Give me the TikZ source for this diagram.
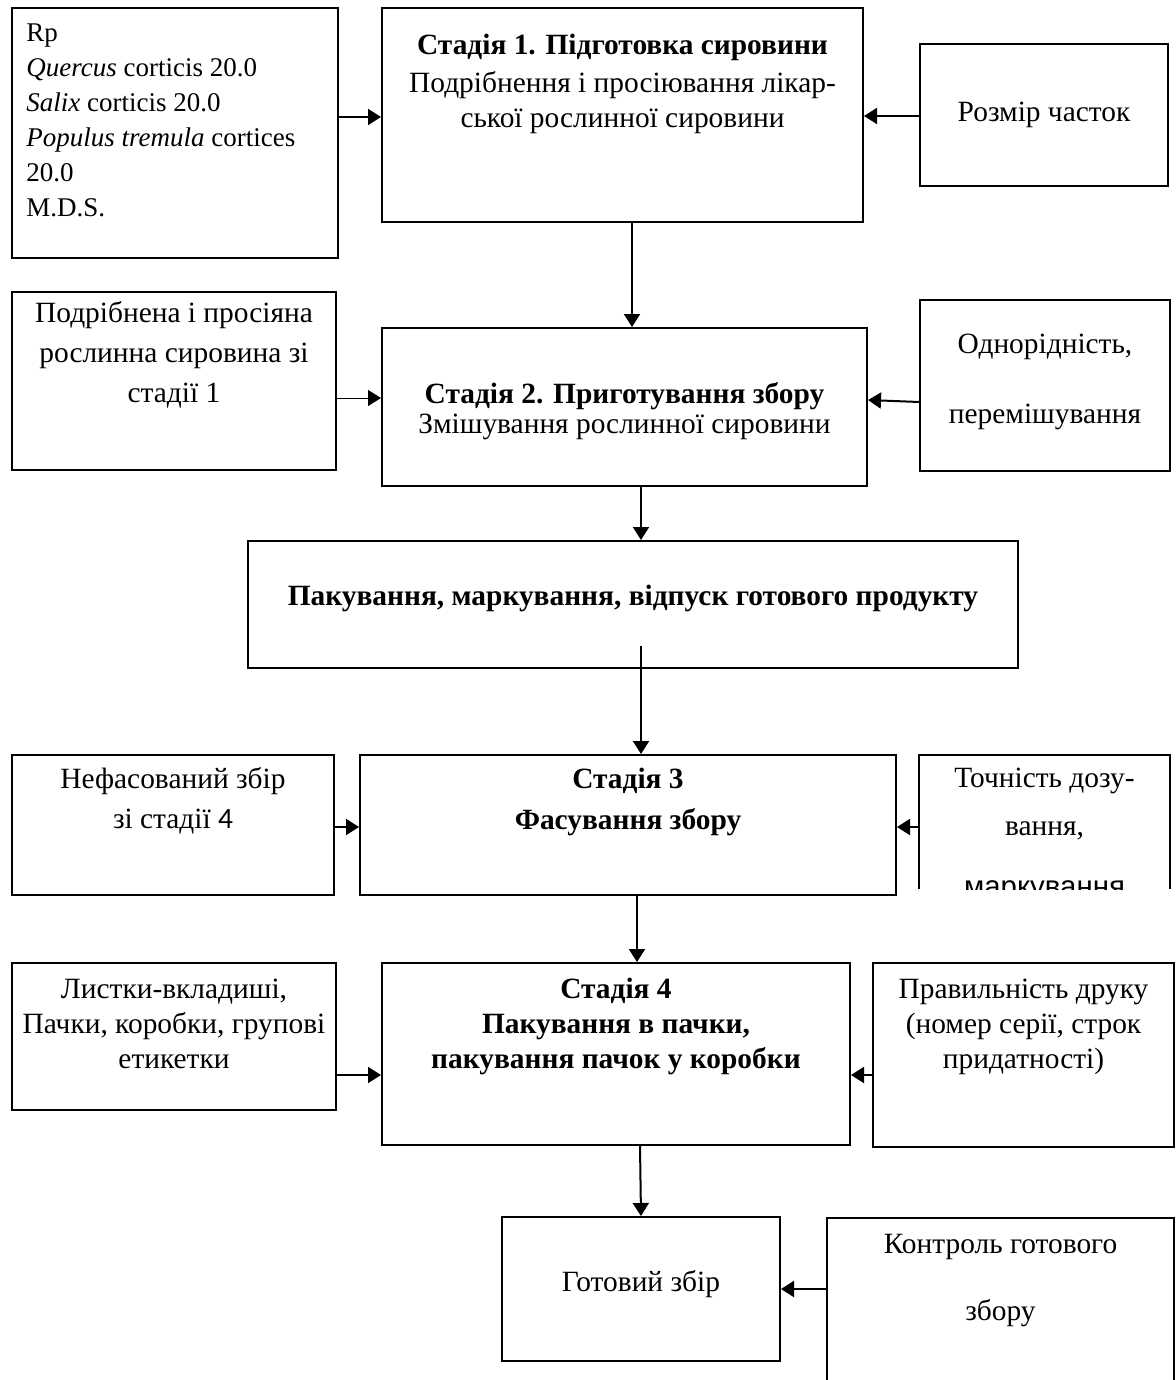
\documentclass[tikz,border=0pt]{standalone}
\usepackage{fontspec}
\setmainfont{Liberation Serif}
\newfontfamily\calfont{Carlito}
\newfontfamily\arialfont{Liberation Sans}
\usetikzlibrary{arrows.meta,positioning}
\tikzset{
  box/.style={draw, line width=1pt, inner sep=0pt},
  openbox/.style={inner sep=0pt},
  txt/.style={inner sep=0pt, align=center, font=\fontsize{14.7}{17.5}\selectfont},
  flow/.style={-{Triangle[length=6.5pt,width=8pt]}, line width=1pt},
  thinflow/.style={flow, line width=0.5pt},
}

\begin{document}
\begin{tikzpicture}[x=0.5pt, y=-0.5pt]
  \useasboundingbox (0,0) rectangle (1176,1380);
  % boxes, centres in px
  \node[box, minimum width=163pt, minimum height=125pt] (rx) at (175,133) {};
  \node[box, minimum width=240.5pt, minimum height=107pt] (s1) at (622.5,115) {};
  \node[box, minimum width=124pt, minimum height=71pt] (size) at (1044,115) {};
  \node[box, minimum width=162pt, minimum height=89pt] (b) at (174,381) {};
  \node[box, minimum width=242.5pt, minimum height=79pt] (s2) at (624.5,407) {};
  \node[box, minimum width=125pt, minimum height=85.5pt] (uni) at (1045,385.5) {};
  \node[box, minimum width=385pt, minimum height=63.5pt] (pack) at (633,604.5) {};
  \node[box, minimum width=161pt, minimum height=70pt] (raw) at (173,825) {};
  \node[box, minimum width=268pt, minimum height=70pt] (s3) at (628,825) {};
  \node[openbox, minimum width=125.5pt, minimum height=67pt] (dose) at (1044.5,822) {};
  \node[box, minimum width=162pt, minimum height=73.5pt] (lst) at (174,1036.5) {};
  \node[box, minimum width=234pt, minimum height=91pt] (s4) at (616,1054) {};
  \node[box, minimum width=150.5pt, minimum height=92pt] (print) at (1023.5,1055) {};
  \node[box, minimum width=139pt, minimum height=72pt] (done) at (641,1289) {};
  \node[openbox, minimum width=173.5pt, minimum height=95pt] (ctrl) at (1000.5,1313) {};
  \draw[line width=1pt] (dose.south west) -- (dose.north west) -- (dose.north east) -- (dose.south east);
  \draw[line width=1pt] (ctrl.south west) -- (ctrl.north west) -- (ctrl.north east) -- (ctrl.south east);

  % texts
  \node[txt, align=left, font=\fontsize{13.5}{17.5}\selectfont,
        below right=4.75pt and 7.5pt of rx.north west] (rxt)
    {\strut Rp\\ \textit{Quercus} corticis 20.0\\ \textit{Salix} corticis 20.0\\
     \textit{Populus tremula} cortices\\ 20.0\\ M.D.S.};
  \node[txt, below=11.25pt of s1.north] (s1t)
    {\strut\textbf{Стадія 1. Підготовка сировини}\\[1.5pt] Подрібнення і просіювання лікар-\\ ської рослинної сировини};
  \node[txt, below=26.75pt of size.north] (sizet) {\strut Розмір часток};
  \node[txt, below=3.25pt of b.north] (bt)
    {\strut Подрібнена і просіяна\\[2.5pt] рослинна сировина зі\\[2.5pt] стадії 1};
  \node[txt, below=25.75pt of s2.north] (s2t)
    {\strut\textbf{Стадія 2. Приготування збору}\\[-2.5pt] Змішування рослинної сировини};
  \node[txt, below=14.75pt of uni.north] (unit)
    {\strut Однорідність,\\[17.5pt] перемішування};
  \node[txt, below=20.25pt of pack.north] (packt)
    {\strut\textbf{Пакування, маркування, відпуск готового продукту}};
  \node[txt, below=4.75pt of raw.north] (rawt)
    {\strut Нефасований збір\\[2.5pt] зі стадії {\calfont 4}};
  \node[txt, below=4.75pt of s3.north] (s3t)
    {\strut\textbf{Стадія 3}\\[3pt] \textbf{Фасування збору}};
  \begin{scope}
    \clip (dose.south west) rectangle (dose.north east);
    \node[txt, below=3.75pt of dose.north] (doset)
      {\strut Точність дозу-\\[6.5pt] вання,\\[13pt] {\arialfont маркування}};
  \end{scope}
  \node[txt, below=5.75pt of lst.north] (lstt)
    {\strut Листки-вкладиші,\\ Пачки, коробки, групові\\ етикетки};
  \node[txt, below=5.75pt of s4.north, font=\fontsize{14.7}{17.5}\selectfont\bfseries] (s4t)
    {\strut Стадія 4\\ Пакування в пачки,\\ пакування пачок у коробки};
  \node[txt, below=5.75pt of print.north] (printt)
    {\strut Правильність друку\\ (номер серії, строк\\ придатності)};
  \node[txt, below=25.25pt of done.north] (donet) {\strut Готовий збір};
  \node[txt, below=5.25pt of ctrl.north] (ctrlt)
    {\strut Контроль готового\\[16pt] збору};

  % connectors
  \draw[flow] (rx.east |- 0,117) -- (s1.west |- 0,117);
  \draw[flow] (size.west |- 0,116) -- (s1.east |- 0,116);
  \draw[flow] (s1.south -| 632,0) -- (s2.north -| 632,0);
  \draw[thinflow] (b.east |- 0,398) -- (s2.west |- 0,398);
  \draw[flow] (uni.west |- 0,402) -- (s2.east |- 0,400);
  \draw[flow] (s2.south -| 641,0) -- (pack.north -| 641,0);
  \coordinate (packout) at (641,646);
  \draw[flow] (packout) -- (s3.north -| packout);
  \draw[flow] (raw.east |- 0,827) -- (s3.west |- 0,827);
  \draw[flow] (dose.west |- 0,827) -- (s3.east |- 0,827);
  \draw[flow] (s3.south -| 637,0) -- (s4.north -| 637,0);
  \draw[flow] (lst.east |- 0,1075) -- (s4.west |- 0,1075);
  \draw[flow] (print.west |- 0,1075) -- (s4.east |- 0,1075);
  \draw[flow] (s4.south -| 640,0) -- (done.north -| 641,0);
  \draw[flow] (ctrl.west |- 0,1289) -- (done.east |- 0,1289);
\end{tikzpicture}
\end{document}
